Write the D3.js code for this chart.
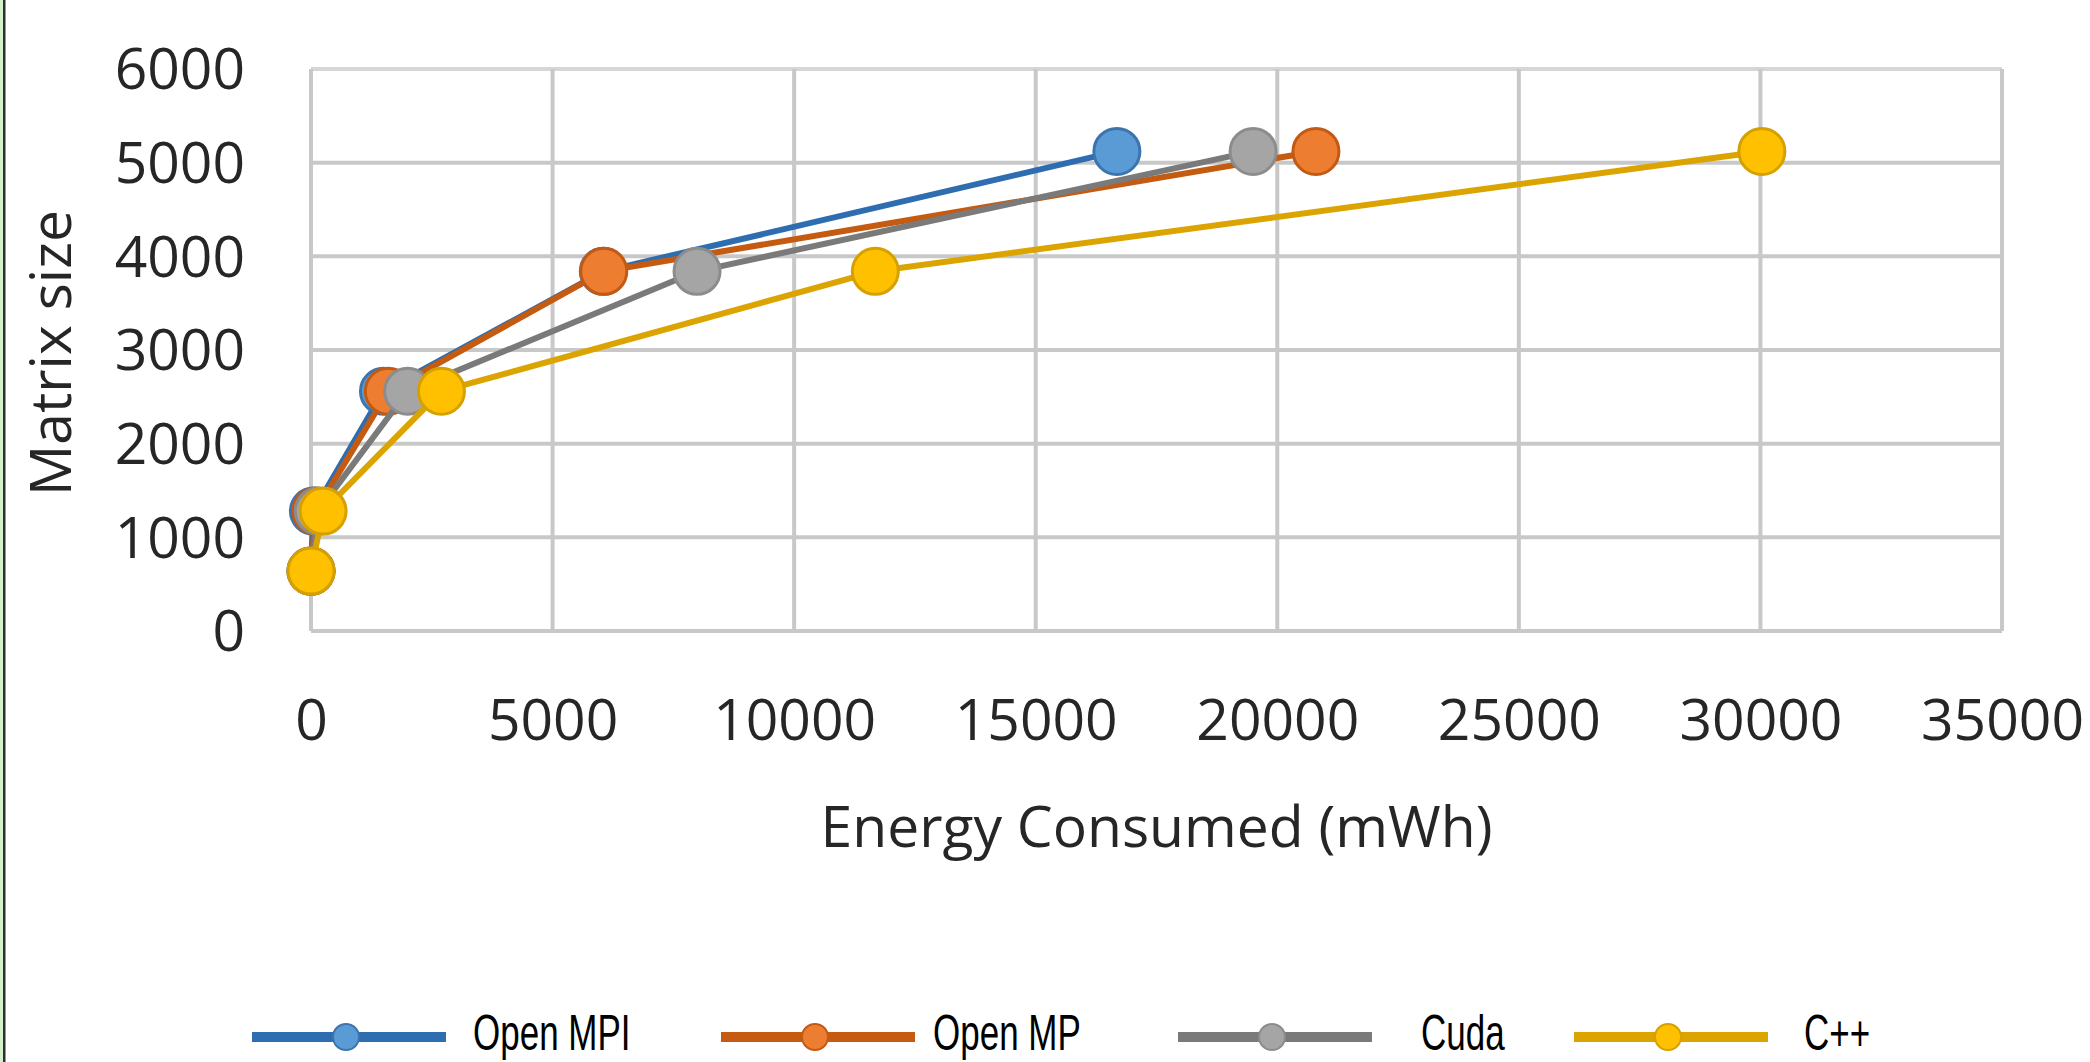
<!DOCTYPE html>
<html>
<head>
<meta charset="utf-8">
<script src="https://cdn.jsdelivr.net/npm/d3@7"></script>
<style>
  html, body { margin: 0; padding: 0; background: #fff; }
  svg { display: block; }
</style>
</head>
<body>
<script>
// ---- data ----
const matrixSizes = [640, 1280, 2560, 3840, 5120];
const seriesNames = ["Open MPI", "Open MP", "Cuda", "C++"];
const openMPI = [0, 50, 1500, 6050, 16680];
const openMP  = [0, 100, 1600, 6060, 20800];
const cuda    = [0, 150, 2000, 7990, 19500];
const cpp     = [0, 250, 2700, 11680, 30030];
const xTicks = [0, 5000, 10000, 15000, 20000, 25000, 30000, 35000];
const yTicks = [0, 1000, 2000, 3000, 4000, 5000, 6000];
const xTitle = "Energy Consumed (mWh)";
const yTitle = "Matrix size";

const lineColors   = ["#2e6db0", "#c55a11", "#7a7a7a", "#dba400"];
const fillColors   = ["#5b9bd5", "#ed7d31", "#a5a5a5", "#ffc000"];
const strokeColors = ["#3c74ad", "#c25a14", "#8c8c8c", "#d5a000"];
const seriesValues = [openMPI, openMP, cuda, cpp];

const W = 2090, H = 1062;
const svg = d3.select("body").append("svg").attr("width", W).attr("height", H);

svg.append("rect").attr("width", W).attr("height", H).attr("fill", "#fff");
// left border strip
svg.append("rect").attr("x", 0).attr("y", 0).attr("width", 3).attr("height", H).attr("fill", "#d4efcc");
svg.append("rect").attr("x", 3).attr("y", 0).attr("width", 2.5).attr("height", H).attr("fill", "#2f2f2f");

const plot = { left: 311, right: 2002, top: 69, bottom: 631 };
const x = d3.scaleLinear().domain([0, 35000]).range([plot.left, plot.right]);
const y = d3.scaleLinear().domain([0, 6000]).range([plot.bottom, plot.top]);

const font = "'Open Sans', sans-serif";

// gridlines
const grid = svg.append("g");
grid.selectAll("line.h").data(yTicks).join("line")
  .attr("x1", plot.left).attr("x2", plot.right)
  .attr("y1", d => y(d)).attr("y2", d => y(d))
  .attr("stroke", d => d === 6000 ? "#d6d6d6" : "#c8c8c8").attr("stroke-width", 4);
grid.selectAll("line.v").data(xTicks).join("line")
  .attr("y1", plot.top).attr("y2", plot.bottom)
  .attr("x1", d => x(d)).attr("x2", d => x(d))
  .attr("stroke", "#c8c8c8").attr("stroke-width", 4);

// axes via d3 axis (labels only)
const yAxis = svg.append("g").attr("transform", `translate(245,0)`)
  .call(d3.axisLeft(y).tickValues(yTicks).tickSize(0).tickPadding(0).tickFormat(d3.format("d")));
yAxis.select(".domain").remove();
yAxis.selectAll("text").attr("font-family", font).attr("font-size", 57).attr("fill", "#262626")
  .attr("dy", "0.35em");

const xAxis = svg.append("g").attr("transform", `translate(0,700)`)
  .call(d3.axisBottom(x).tickValues(xTicks).tickSize(0).tickPadding(0).tickFormat(d3.format("d")));
xAxis.select(".domain").remove();
xAxis.selectAll("text").attr("font-family", font).attr("font-size", 57).attr("fill", "#262626")
  .attr("dy", "0.71em");

// titles
svg.append("text").attr("x", (plot.left + plot.right) / 2).attr("y", 847)
  .attr("text-anchor", "middle").attr("font-family", font).attr("font-size", 57)
  .attr("fill", "#262626").text(xTitle);
svg.append("text").attr("transform", "translate(71,353) rotate(-90)")
  .attr("text-anchor", "middle").attr("font-family", font).attr("font-size", 57)
  .attr("fill", "#262626").text(yTitle);

// series
const line = d3.line().x(d => x(d[0])).y(d => y(d[1]));
seriesValues.forEach((vals, i) => {
  const pts = vals.map((v, j) => [v, matrixSizes[j]]);
  const g = svg.append("g");
  g.append("path").datum(pts).attr("d", line).attr("fill", "none")
    .attr("stroke", lineColors[i]).attr("stroke-width", 6).attr("stroke-linejoin", "round");
  g.selectAll("circle").data(pts).join("circle")
    .attr("cx", d => x(d[0])).attr("cy", d => y(d[1])).attr("r", 23)
    .attr("fill", fillColors[i]).attr("stroke", strokeColors[i]).attr("stroke-width", 3);
});

// legend
const legendX = [252, 721, 1178, 1574];
const legendTextX = [473, 933, 1421, 1804];
const lg = svg.append("g");
seriesNames.forEach((name, i) => {
  lg.append("line").attr("x1", legendX[i]).attr("x2", legendX[i] + 194)
    .attr("y1", 1037).attr("y2", 1037)
    .attr("stroke", lineColors[i]).attr("stroke-width", 10);
  lg.append("circle").attr("cx", legendX[i] + 94).attr("cy", 1037).attr("r", 13)
    .attr("fill", fillColors[i]).attr("stroke", strokeColors[i]).attr("stroke-width", 2);
  lg.append("text").attr("transform", `translate(${legendTextX[i]},1050) scale(0.7,1)`)
    .attr("font-family", "'Liberation Sans', Arial, sans-serif").attr("font-size", 50)
    .attr("fill", "#000").text(name);
});
</script>
</body>
</html>
